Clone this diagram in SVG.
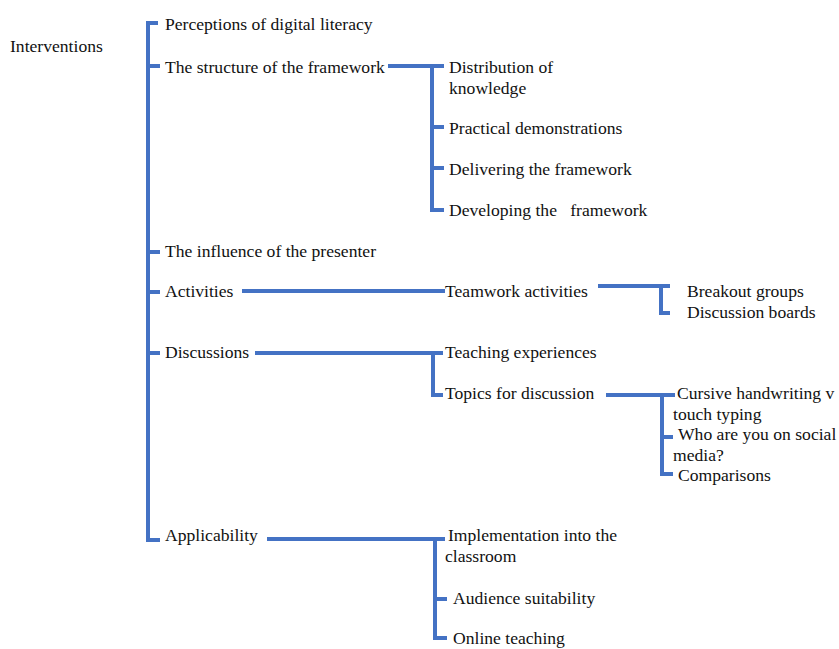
<svg xmlns="http://www.w3.org/2000/svg" width="839" height="649" viewBox="0 0 839 649">
  <style>
    .t { font-family: "Liberation Serif", "Times New Roman", serif; font-size: 17.6px; fill: #111; }
    .c { stroke: #4472C4; stroke-width: 4; fill: none; stroke-linecap: butt; stroke-linejoin: miter; }
  </style>
  <rect width="839" height="649" fill="#ffffff"/>

  <g id="connectors">
    <!-- main spine -->
    <path class="c" d="M158,23 H148 V540 H160"/>
    <path class="c" d="M148,66 H160"/>
    <path class="c" d="M148,252 H160"/>
    <path class="c" d="M148,292 H160"/>
    <path class="c" d="M148,353 H160"/>
    <!-- structure of the framework -->
    <path class="c" d="M388,66 H444"/>
    <path class="c" d="M432,66 V210 H444"/>
    <path class="c" d="M432,127 H444"/>
    <path class="c" d="M432,168 H444"/>
    <!-- activities -->
    <path class="c" d="M242,291 H445"/>
    <path class="c" d="M598,286 H670"/>
    <path class="c" d="M661,286 V313 H670"/>
    <!-- discussions -->
    <path class="c" d="M255,353 H443"/>
    <path class="c" d="M433,351 V395 H443"/>
    <path class="c" d="M606,395 H675"/>
    <path class="c" d="M662,395 V474 H673"/>
    <path class="c" d="M662,437 H673"/>
    <!-- applicability -->
    <path class="c" d="M267,539 H445"/>
    <path class="c" d="M435,539 V638 H447"/>
    <path class="c" d="M435,599 H447"/>
  </g>

  <g id="root"><text class="t" x="10" y="52">Interventions</text></g>

  <g id="perceptions"><text class="t" x="165" y="30">Perceptions of digital literacy</text></g>
  <g id="structure"><text class="t" x="165" y="73">The structure of the framework</text></g>
  <g id="distribution"><text class="t" x="449" y="73">Distribution of</text><text class="t" x="449" y="94">knowledge</text></g>
  <g id="practical"><text class="t" x="449" y="134">Practical demonstrations</text></g>
  <g id="delivering"><text class="t" x="449" y="175">Delivering the framework</text></g>
  <g id="developing"><text class="t" x="449" y="216" xml:space="preserve">Developing the   framework</text></g>

  <g id="influence"><text class="t" x="165" y="257">The influence of the presenter</text></g>

  <g id="activities"><text class="t" x="165" y="297">Activities</text></g>
  <g id="teamwork"><text class="t" x="445" y="297">Teamwork activities</text></g>
  <g id="breakout"><text class="t" x="687" y="297">Breakout groups</text></g>
  <g id="boards"><text class="t" x="687" y="318">Discussion boards</text></g>

  <g id="discussions"><text class="t" x="165" y="358">Discussions</text></g>
  <g id="teaching"><text class="t" x="445" y="358">Teaching experiences</text></g>
  <g id="topics"><text class="t" x="445" y="399">Topics for discussion</text></g>
  <g id="cursive"><text class="t" x="677" y="399">Cursive handwriting v</text><text class="t" x="673" y="420">touch typing</text></g>
  <g id="social"><text class="t" x="678" y="440">Who are you on social</text><text class="t" x="673" y="461">media?</text></g>
  <g id="comparisons"><text class="t" x="678" y="481">Comparisons</text></g>

  <g id="applicability"><text class="t" x="165" y="541">Applicability</text></g>
  <g id="implementation"><text class="t" x="448" y="541">Implementation into the</text><text class="t" x="445" y="562">classroom</text></g>
  <g id="audience"><text class="t" x="453" y="604">Audience suitability</text></g>
  <g id="online"><text class="t" x="453" y="644">Online teaching</text></g>
</svg>
